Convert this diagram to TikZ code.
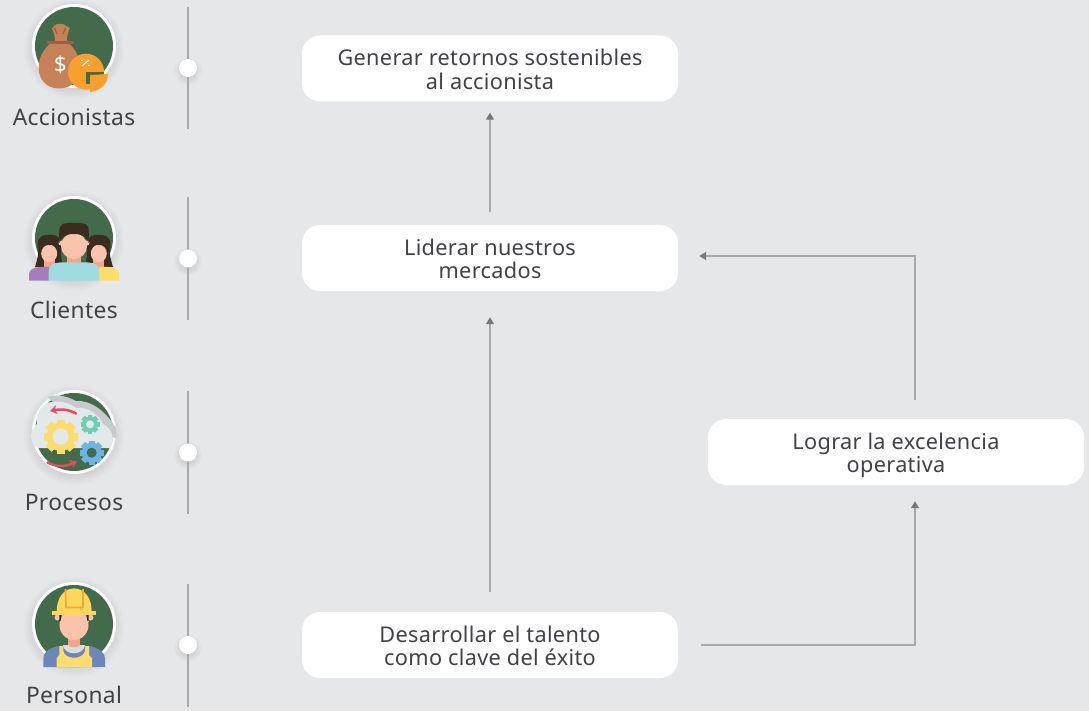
\documentclass[tikz,border=0pt]{standalone}
\usepackage{fontspec}
\setmainfont[LetterSpace=1.5]{Noto Sans}
\usetikzlibrary{arrows.meta}
\definecolor{bgc}{HTML}{E6E7E9}
\definecolor{txtc}{HTML}{414246}
\definecolor{linec}{HTML}{A8A9AB}
\definecolor{tipc}{HTML}{77787B}
\definecolor{leaf}{HTML}{436A4A}
\definecolor{bagc}{HTML}{C58259}
\definecolor{bandc}{HTML}{9B5F3E}
\definecolor{orangec}{HTML}{F7A02D}
\definecolor{hairc}{HTML}{3A2C1E}
\definecolor{skinc}{HTML}{FBC3AE}
\definecolor{neckc}{HTML}{F6A48C}
\definecolor{cyanc}{HTML}{9FDCE2}
\definecolor{purplec}{HTML}{A67DB8}
\definecolor{yellowc}{HTML}{FBDD6E}
\definecolor{cloudc}{HTML}{E3E8EB}
\definecolor{cloudb}{HTML}{C6CACD}
\definecolor{tealc}{HTML}{72CDB0}
\definecolor{bluec}{HTML}{6CB4E4}
\definecolor{redc}{HTML}{EA4A5A}
\definecolor{blueshirt}{HTML}{6C86B8}
\definecolor{hatc}{HTML}{FBD75B}
\definecolor{hatb}{HTML}{F2A83B}
\definecolor{collarc}{HTML}{D9DDE0}
\tikzset{
  boxn/.style={fill=white, rounded corners=18, minimum width=376, minimum height=66, align=center, text=txtc, font=\fontsize{21.7}{23.7}\selectfont, inner sep=0},
  lbl/.style={text=txtc, font=\fontsize{22.8}{24}\selectfont, inner sep=0},
  dotn/.style={circle, fill=white, minimum size=18, inner sep=0},
  bar/.style={linec, line width=1.3},
  arr/.style={linec, line width=1.3, -{Triangle[length=7,width=8,color=tipc]}},
}
\newcommand{\rsa}{\rule{0pt}{23.5pt}}
\newcommand{\rsb}{\rule[-5.5pt]{0pt}{5.5pt}}
\newcommand{\softshadow}[4]{
  \foreach \s in {1,...,8}
    \fill[black, opacity=.013] (#1,#2+3) circle[radius=#3+#4*\s/8];
}
\newcommand{\gearicon}[6]{
  \foreach \a in {0,45,...,315}
    \fill[#5, rotate around={\a:(#1,#2)}] (#1-#3*.24,#2-#3) rectangle (#1+#3*.24,#2+#3);
  \fill[#5] (#1,#2) circle[radius=#3*.84];
  \fill[#6] (#1,#2) circle[radius=#4];
}
\begin{document}
\begin{tikzpicture}[x=1pt,y=-1pt]
\useasboundingbox (0,0) rectangle (1089,711);
\fill[bgc] (0,0) rectangle (1089,711);
\softshadow{74}{46}{38}{12}
\softshadow{74}{238}{38}{12}
\softshadow{74}{432}{38}{12}
\softshadow{74}{624}{38}{12}
\softshadow{188}{68}{6}{8}
\softshadow{188}{258.5}{6}{8}
\softshadow{188}{452.5}{6}{8}
\softshadow{188}{645}{6}{8}
\coordinate (bar0a) at (188,7);
\coordinate (bar0b) at (188,129);
\coordinate (bar1a) at (188,197);
\coordinate (bar1b) at (188,320);
\coordinate (bar2a) at (188,391);
\coordinate (bar2b) at (188,514);
\coordinate (bar3a) at (188,584);
\coordinate (bar3b) at (188,707);
\draw[bar](bar0a) -- (bar0b);
\draw[bar](bar1a) -- (bar1b);
\draw[bar](bar2a) -- (bar2b);
\draw[bar](bar3a) -- (bar3b);
\node[dotn] (dot0) at (188,68){};
\node[dotn] (dot1) at (188,258.5){};
\node[dotn] (dot2) at (188,452.5){};
\node[dotn] (dot3) at (188,645){};
\node[lbl] (lbl0) at (74,117.3){Accionistas};
\node[lbl] (lbl1) at (74,310.3){Clientes};
\node[lbl] (lbl2) at (74,502.3){Procesos};
\node[lbl] (lbl3) at (74,695.3){Personal};
\node[boxn] (box0) at (490,68.5){\rsa Generar retornos sostenibles\\\rsb al accionista};
\node[boxn] (box1) at (490,258){\rsa Liderar nuestros\\\rsb mercados};
\node[boxn] (box2) at (896,452){\rsa Lograr la excelencia\\\rsb operativa};
\node[boxn] (box3) at (490,645){\rsa Desarrollar el talento\\\rsb como clave del éxito};
\draw[arr, shorten <=13, shorten >=11](box1) -- (box0);
\draw[arr, shorten <=20, shorten >=26](box3) -- (box1);
\draw[arr, shorten <=23, shorten >=16](box3.east) -| ([xshift=19]box2.south);
\draw[arr, shorten <=19, shorten >=21]([xshift=19]box2.north) |- ([yshift=2]box1.east);
\fill[white] (74,46) circle[radius=42];
\fill[leaf] (74,46) circle[radius=39];
\fill[white] (74,238) circle[radius=42];
\fill[leaf] (74,238) circle[radius=39];
\fill[white] (74,432) circle[radius=42];
\fill[leaf] (74,432) circle[radius=39];
\fill[white] (74,624) circle[radius=42];
\fill[leaf] (74,624) circle[radius=39];
\fill[bagc] (51.7,28.5) .. controls (54,32) and (55,37) .. (55,42) -- (66.7,42) .. controls (66.7,37) and (68,32) .. (70,28) .. controls (67,26.5) and (65,26) .. (64,24.5) .. controls (61,23.5) and (59,23.5) .. (56,24.5) .. controls (55,26) and (53,27) .. (51.7,28.5) -- cycle;
\fill[bagc] (51,43) .. controls (43,49) and (38.7,58) .. (38.7,68) .. controls (38.7,80) and (47,88.5) .. (59,88.5) .. controls (71,88.5) and (80,80) .. (80,68) .. controls (80,58) and (76,49) .. (68,43) -- cycle;
\fill[bandc] (47.3,41.3) rectangle (74,43.7);
\draw[bandc, line width=1.2] (54.5,28) -- (57,34) (65.5,28) -- (63,34);
\node[text=white, inner sep=0, font=\bfseries\fontsize{22}{22}\selectfont] (dollar) at (60.5,65){\$};
\fill[orangec] (86,71.7) circle[radius=18];
\fill[leaf] (86,72) -- (104,72) -- (104,84) -- (86,84) -- cycle;
\fill[orangec] (90,75) -- (108,74) .. controls (108,84) and (100,91) .. (90,92) -- cycle;
\draw[white, line width=1.1] (82,66) -- (89,60);
\fill[white] (82,60.5) circle[radius=1] (89,65.5) circle[radius=1];
\fill[hairc] (35,267) .. controls (37,260) and (39,255) .. (38,245) -- (61,245) .. controls (60,255) and (62,260) .. (63,267) -- cycle;
\fill[hairc] (113,267) .. controls (111,260) and (109,255) .. (110,245) -- (87,245) .. controls (88,255) and (86,260) .. (85,267) -- cycle;
\fill[neckc] (44,258) rectangle (55,272);
\fill[neckc] (93,258) rectangle (104,272);
\fill[skinc] (49.2,253.5) ellipse[x radius=8, y radius=8.8];
\fill[skinc] (98.8,253.5) ellipse[x radius=8, y radius=8.8];
\fill[hairc] (38,250) .. controls (36,240) and (40,235) .. (46,235) -- (53,235) .. controls (59,235) and (61,240) .. (60.5,250) .. controls (58,246) and (54,244) .. (50,245) .. controls (45,245) and (41,246) .. (38,250) -- cycle;
\fill[hairc] (110,250) .. controls (112,240) and (108,235) .. (102,235) -- (95,235) .. controls (89,235) and (87,240) .. (87.5,250) .. controls (90,246) and (94,244) .. (98,245) .. controls (103,245) and (107,246) .. (110,250) -- cycle;
\fill[purplec] (29,280.7) -- (29,274) .. controls (29,270) and (34,267) .. (40,267) -- (49,267) -- (49,280.7) -- cycle;
\fill[yellowc] (119,280.7) -- (119,274) .. controls (119,270) and (114,267) .. (108,267) -- (99,267) -- (99,280.7) -- cycle;
\fill[neckc] (67,252) rectangle (81,268);
\fill[skinc] (74,246) ellipse[x radius=13, y radius=13];
\fill[skinc] (61,243) circle[radius=2.5] (87,243) circle[radius=2.5];
\fill[hairc] (59.5,243) .. controls (59,235) and (59,229) .. (60,227) .. controls (61,224) and (64,223) .. (67,223) -- (81,223) .. controls (84,223) and (87,224) .. (88,227) .. controls (89,229) and (89,235) .. (88.5,243) .. controls (87,238) and (84,234) .. (74,234) .. controls (64,234) and (61,238) .. (59.5,243) -- cycle;
\fill[cyanc] (48.7,280.7) -- (48.7,272) .. controls (48.7,266) and (53,262.5) .. (60,262.5) -- (88,262.5) .. controls (95,262.5) and (99.3,266) .. (99.3,272) -- (99.3,280.7) -- cycle;
\fill[cloudb] (48,397) .. controls (60,393) and (70,398) .. (76,401) .. controls (90,400) and (105,410) .. (116,428) -- (116,438) -- (80,430) -- cycle;
\fill[cloudc] (38,448) .. controls (30,445) and (28,430) .. (37,424) .. controls (36,412) and (42,403) .. (52,402) .. controls (62,400) and (70,404) .. (76,408) .. controls (88,406) and (100,416) .. (103,424) .. controls (112,428) and (116,440) .. (110,448) -- cycle;
\gearicon{60.7}{436.7}{17}{8}{yellowc}{cloudc}
\gearicon{90}{424.3}{9.5}{4}{tealc}{cloudc}
\gearicon{91.7}{452.7}{12}{5}{bluec}{leaf}
\draw[redc, line width=2.5, line cap=round, -{Stealth[length=7,width=9]}] (76,413.5) .. controls (68,409) and (60,409) .. (50,411);
\draw[redc, line width=2.5, line cap=round, -{Stealth[length=7,width=9]}] (47.5,462.5) .. controls (56,467) and (66,467) .. (77,461);
\fill[neckc] (68,634) rectangle (80,648);
\fill[blueshirt] (43.3,667) -- (43.3,658) .. controls (43.3,652) and (50,648) .. (58,646) -- (90,646) .. controls (98,648) and (105,652) .. (105,658) -- (105,667) -- cycle;
\fill[collarc] (63,645) .. controls (64,656) and (84,656) .. (85,645) -- cycle;
\fill[neckc] (68,645) -- (80,645) .. controls (79,648) and (69,648) .. (68,645) -- cycle;
\fill[yellowc] (56.7,667) -- (56.7,658) -- (59.3,655) -- (59.3,646) -- (63.3,646) -- (63.3,651) .. controls (65,660) and (83,660) .. (85,651) -- (85,646) -- (89,646) -- (89,655) -- (92,658) -- (92,667) -- cycle;
\fill[skinc] (57.5,617.5) circle[radius=3] (90.5,617.5) circle[radius=3];
\fill[skinc] (74,625) ellipse[x radius=14.5, y radius=15];
\fill[skinc] (59.5,612) rectangle (88.5,622);
\fill[black!85] (59.3,614) -- (62,614) -- (60.5,621) -- (59.3,621) -- cycle;
\fill[black!85] (88.7,614) -- (86,614) -- (87.5,621) -- (88.7,621) -- cycle;
\fill[hatc] (56.7,612) .. controls (56.7,598) and (63,589) .. (74,588.3) .. controls (85,589) and (91.7,598) .. (91.7,612) -- cycle;
\fill[hatc] (52.3,611) rectangle (96,614.5);
\draw[hatb, line width=1.8] (65.5,589) -- (66,607.5) -- (83,607.5) -- (83,589);
\end{tikzpicture}
\end{document}
